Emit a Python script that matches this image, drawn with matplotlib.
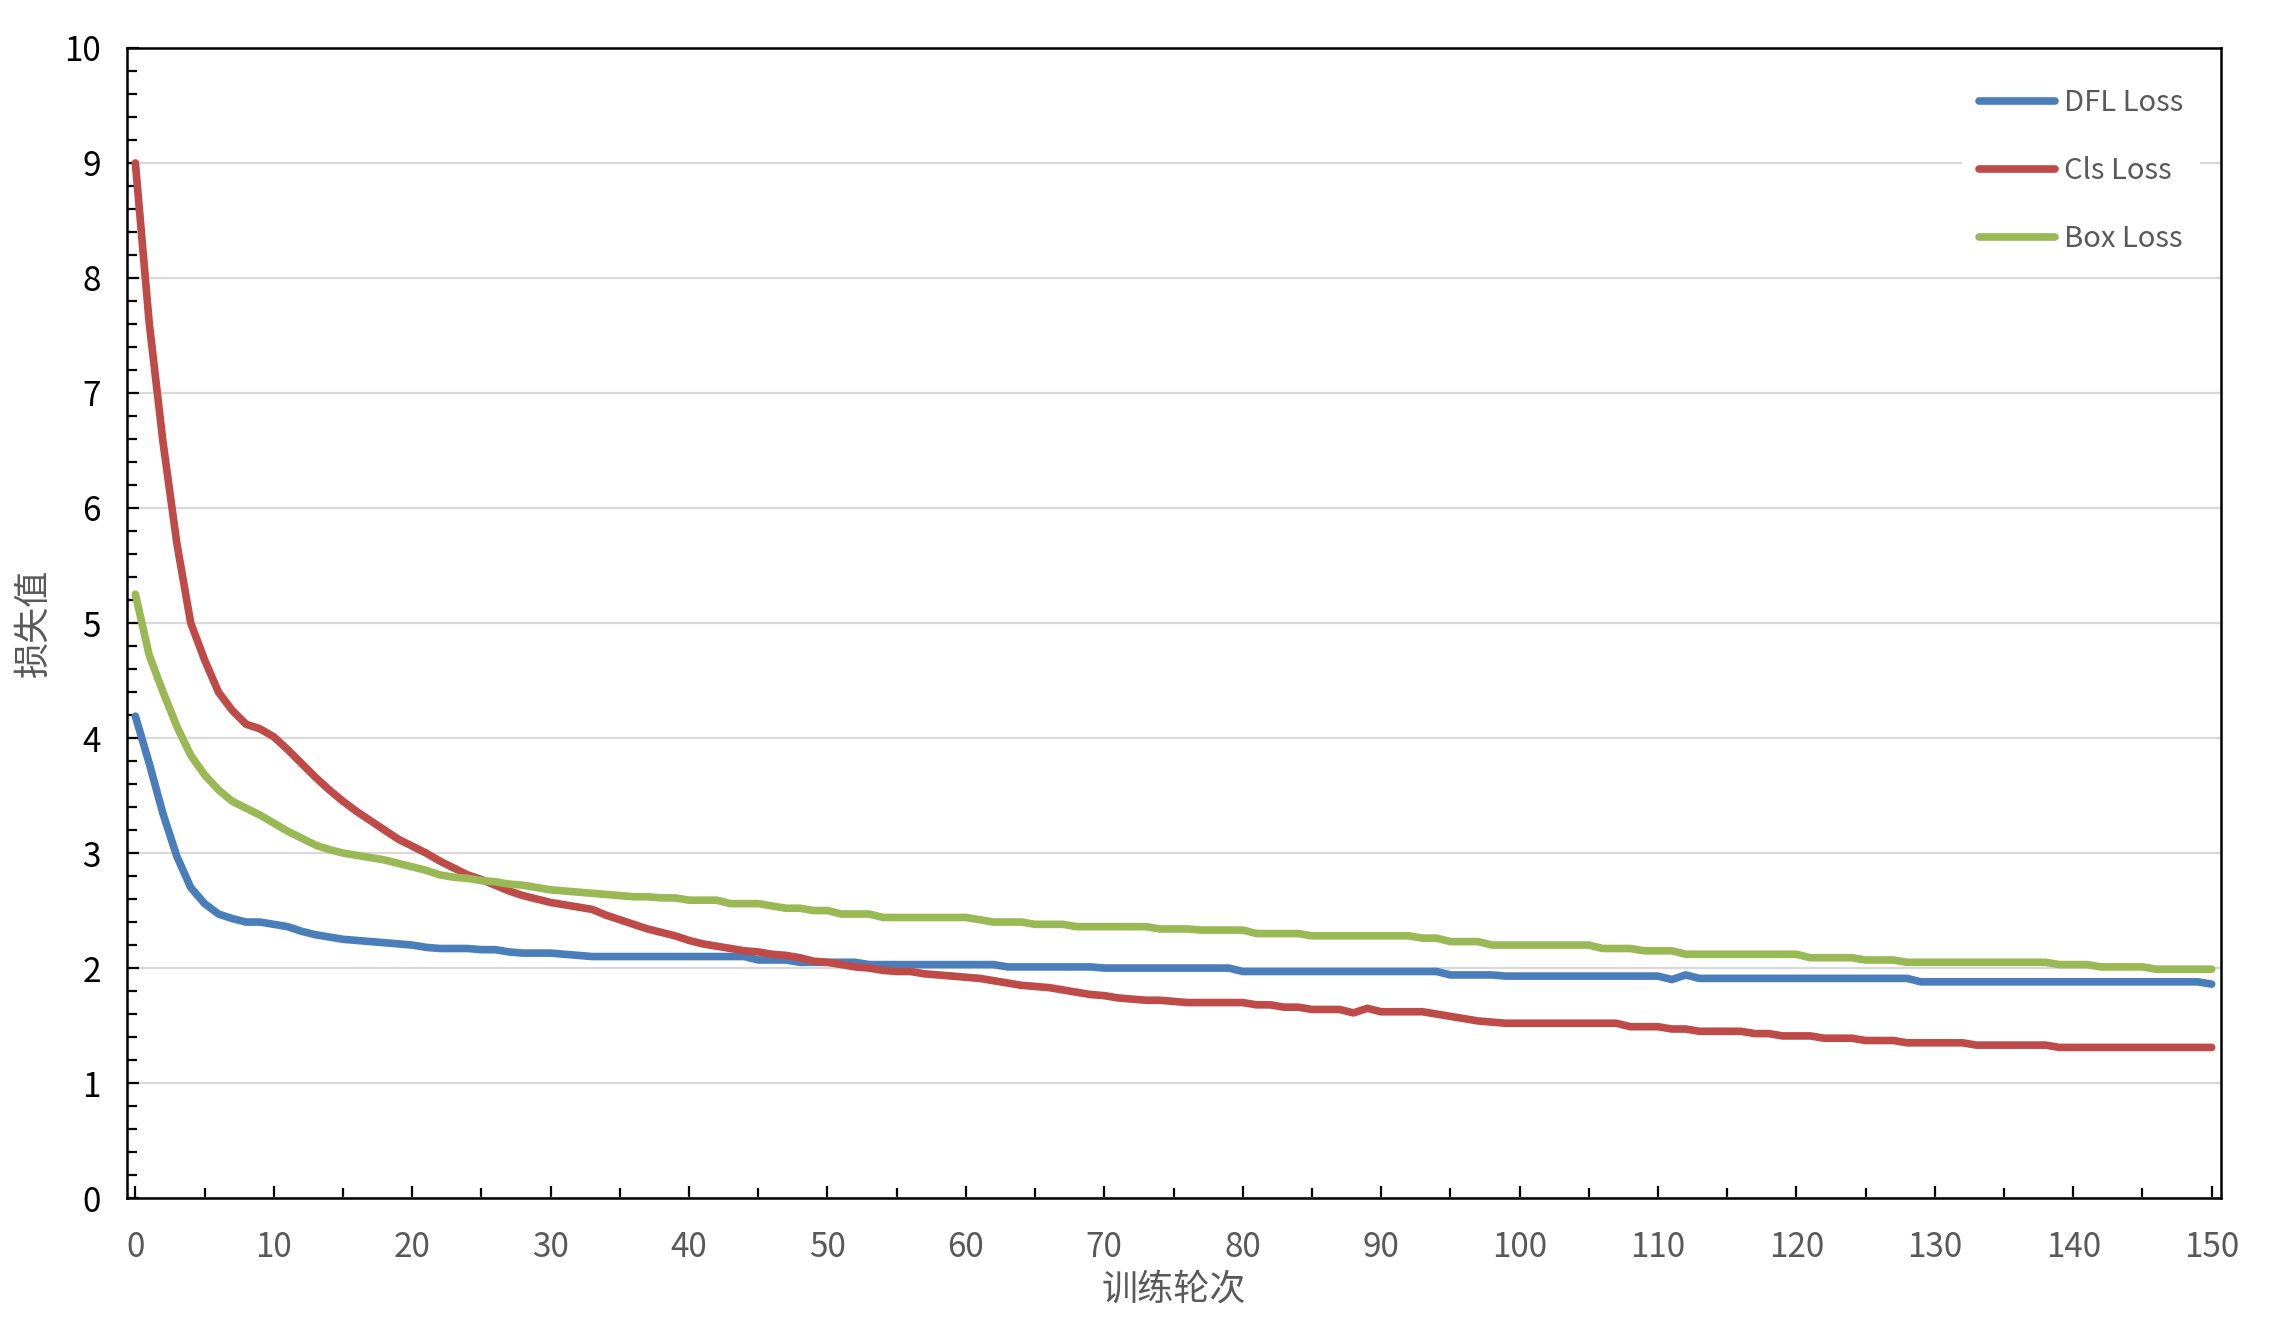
import numpy as np
import matplotlib
matplotlib.use('Agg')
import matplotlib.pyplot as plt
from matplotlib.ticker import MultipleLocator

plt.rcParams['font.family'] = ['Noto Sans CJK SC', 'DejaVu Sans']

# 训练轮次 0..150
epochs = list(range(151))

# DFL Loss（蓝）
dfl_loss = [
    4.19, 3.78, 3.34, 2.97, 2.70, 2.56, 2.47, 2.43, 2.40, 2.40,
    2.38, 2.36, 2.32, 2.29, 2.27, 2.25, 2.24, 2.23, 2.22, 2.21,
    2.20, 2.18, 2.17, 2.17, 2.17, 2.16, 2.16, 2.14, 2.13, 2.13,
    2.13, 2.12, 2.11, 2.10, 2.10, 2.10, 2.10, 2.10, 2.10, 2.10,
    2.10, 2.10, 2.10, 2.10, 2.10, 2.07, 2.07, 2.07, 2.05, 2.05,
    2.05, 2.05, 2.05, 2.03, 2.03, 2.03, 2.03, 2.03, 2.03, 2.03,
    2.03, 2.03, 2.03, 2.01, 2.01, 2.01, 2.01, 2.01, 2.01, 2.01,
    2.00, 2.00, 2.00, 2.00, 2.00, 2.00, 2.00, 2.00, 2.00, 2.00,
    1.97, 1.97, 1.97, 1.97, 1.97, 1.97, 1.97, 1.97, 1.97, 1.97,
    1.97, 1.97, 1.97, 1.97, 1.97, 1.94, 1.94, 1.94, 1.94, 1.93,
    1.93, 1.93, 1.93, 1.93, 1.93, 1.93, 1.93, 1.93, 1.93, 1.93,
    1.93, 1.90, 1.94, 1.91, 1.91, 1.91, 1.91, 1.91, 1.91, 1.91,
    1.91, 1.91, 1.91, 1.91, 1.91, 1.91, 1.91, 1.91, 1.91, 1.88,
    1.88, 1.88, 1.88, 1.88, 1.88, 1.88, 1.88, 1.88, 1.88, 1.88,
    1.88, 1.88, 1.88, 1.88, 1.88, 1.88, 1.88, 1.88, 1.88, 1.88,
    1.86,
]

# Cls Loss（红）
cls_loss = [
    9.00, 7.61, 6.57, 5.69, 5.00, 4.68, 4.40, 4.24, 4.12, 4.08,
    4.01, 3.90, 3.78, 3.66, 3.55, 3.45, 3.36, 3.28, 3.20, 3.12,
    3.06, 3.00, 2.93, 2.87, 2.81, 2.77, 2.72, 2.67, 2.63, 2.60,
    2.57, 2.55, 2.53, 2.51, 2.46, 2.42, 2.38, 2.34, 2.31, 2.28,
    2.24, 2.21, 2.19, 2.17, 2.15, 2.14, 2.12, 2.11, 2.09, 2.06,
    2.05, 2.03, 2.01, 2.00, 1.98, 1.97, 1.97, 1.95, 1.94, 1.93,
    1.92, 1.91, 1.89, 1.87, 1.85, 1.84, 1.83, 1.81, 1.79, 1.77,
    1.76, 1.74, 1.73, 1.72, 1.72, 1.71, 1.70, 1.70, 1.70, 1.70,
    1.70, 1.68, 1.68, 1.66, 1.66, 1.64, 1.64, 1.64, 1.61, 1.65,
    1.62, 1.62, 1.62, 1.62, 1.60, 1.58, 1.56, 1.54, 1.53, 1.52,
    1.52, 1.52, 1.52, 1.52, 1.52, 1.52, 1.52, 1.52, 1.49, 1.49,
    1.49, 1.47, 1.47, 1.45, 1.45, 1.45, 1.45, 1.43, 1.43, 1.41,
    1.41, 1.41, 1.39, 1.39, 1.39, 1.37, 1.37, 1.37, 1.35, 1.35,
    1.35, 1.35, 1.35, 1.33, 1.33, 1.33, 1.33, 1.33, 1.33, 1.31,
    1.31, 1.31, 1.31, 1.31, 1.31, 1.31, 1.31, 1.31, 1.31, 1.31,
    1.31,
]

# Box Loss（绿）
box_loss = [
    5.25, 4.72, 4.40, 4.10, 3.85, 3.68, 3.55, 3.45, 3.39, 3.33,
    3.26, 3.19, 3.13, 3.07, 3.03, 3.00, 2.98, 2.96, 2.94, 2.91,
    2.88, 2.85, 2.81, 2.79, 2.78, 2.76, 2.75, 2.73, 2.72, 2.70,
    2.68, 2.67, 2.66, 2.65, 2.64, 2.63, 2.62, 2.62, 2.61, 2.61,
    2.59, 2.59, 2.59, 2.56, 2.56, 2.56, 2.54, 2.52, 2.52, 2.50,
    2.50, 2.47, 2.47, 2.47, 2.44, 2.44, 2.44, 2.44, 2.44, 2.44,
    2.44, 2.42, 2.40, 2.40, 2.40, 2.38, 2.38, 2.38, 2.36, 2.36,
    2.36, 2.36, 2.36, 2.36, 2.34, 2.34, 2.34, 2.33, 2.33, 2.33,
    2.33, 2.30, 2.30, 2.30, 2.30, 2.28, 2.28, 2.28, 2.28, 2.28,
    2.28, 2.28, 2.28, 2.26, 2.26, 2.23, 2.23, 2.23, 2.20, 2.20,
    2.20, 2.20, 2.20, 2.20, 2.20, 2.20, 2.17, 2.17, 2.17, 2.15,
    2.15, 2.15, 2.12, 2.12, 2.12, 2.12, 2.12, 2.12, 2.12, 2.12,
    2.12, 2.09, 2.09, 2.09, 2.09, 2.07, 2.07, 2.07, 2.05, 2.05,
    2.05, 2.05, 2.05, 2.05, 2.05, 2.05, 2.05, 2.05, 2.05, 2.03,
    2.03, 2.03, 2.01, 2.01, 2.01, 2.01, 1.99, 1.99, 1.99, 1.99,
    1.99,
]

fig = plt.figure(figsize=(22.69, 13.17), dpi=100)
ax = fig.add_axes([0.056, 0.0903, 0.923, 0.8733])

ax.plot(epochs, dfl_loss, c='#4A7EBB', lw=5.5, label='DFL Loss', solid_capstyle='round')
ax.plot(epochs, cls_loss, c='#BE4B48', lw=5.5, label='Cls Loss', solid_capstyle='round')
ax.plot(epochs, box_loss, c='#98B954', lw=5.5, label='Box Loss', solid_capstyle='round')

ax.set_xlim(-0.6, 150.7)
ax.set_ylim(0, 10)
ax.xaxis.set_major_locator(MultipleLocator(10))
ax.xaxis.set_minor_locator(MultipleLocator(5))
ax.yaxis.set_major_locator(MultipleLocator(1))
ax.yaxis.set_minor_locator(MultipleLocator(0.2))

ax.grid(axis='y', which='major', color='#D9D9D9', lw=1.6)
ax.set_axisbelow(True)

for s in ax.spines.values():
    s.set_linewidth(1.8)
    s.set_color('black')

ax.tick_params(axis='both', which='both', direction='in', width=1.6, color='black')
ax.tick_params(axis='both', which='major', length=8.5)
ax.tick_params(axis='both', which='minor', length=7)
ax.tick_params(axis='y', which='major', labelsize=24, labelcolor='black', pad=19)
ax.tick_params(axis='x', which='major', labelsize=24, labelcolor='#595959', pad=23)

ax.set_xlabel('训练轮次', fontsize=26, color='#595959')
ax.set_ylabel('损失值', fontsize=26, color='#595959')
ax.xaxis.set_label_coords(0.5, -0.064)
ax.yaxis.set_label_coords(-0.036, 0.5)

leg = ax.legend(loc='upper right', bbox_to_anchor=(0.997, 0.993), fontsize=21,
                frameon=True, framealpha=1, edgecolor='none', facecolor='white',
                handlelength=2.6, handletextpad=0.3, labelspacing=1.3,
                borderpad=0.6)
for t in leg.get_texts():
    t.set_color('#595959')

plt.savefig('out.png', dpi=100)
